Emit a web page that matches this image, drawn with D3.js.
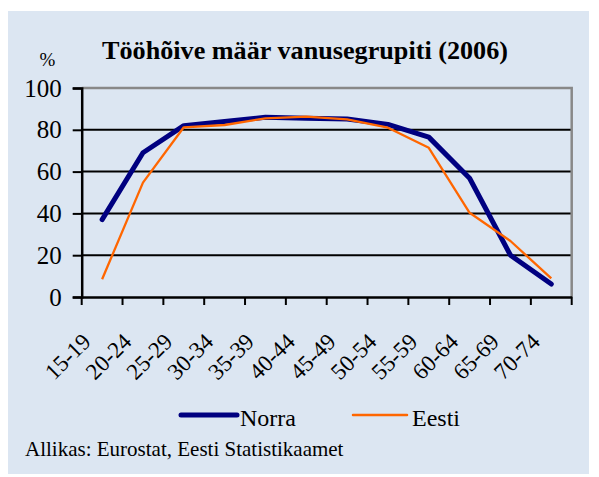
<!DOCTYPE html>
<html><head><meta charset="utf-8">
<script src="https://cdn.jsdelivr.net/npm/d3@7"></script>
</head><body>
<script>
const categories = ["15-19","20-24","25-29","30-34","35-39","40-44","45-49","50-54","55-59","60-64","65-69","70-74"];
const norra = [37, 69, 82, 84, 86, 85.5, 85.2, 82.6, 76.5, 56.8, 20, 6.2];
const eesti = [8.5, 54.7, 81.2, 82.3, 85.5, 86.3, 85, 81, 71.4, 40.3, 26.8, 8.9];
const yTicks = [0, 20, 40, 60, 80, 100];
const seriesNames = ["Norra", "Eesti"];
const seriesColors = ["#000080", "#ff6600"];
const title = "Tööhõive määr vanusegrupiti (2006)";
const source = "Allikas: Eurostat, Eesti Statistikaamet";

const F = `"Liberation Serif"`;
const svg = d3.select("body").append("svg").attr("width", 599).attr("height", 477)
  .style("position", "absolute").style("left", "0px").style("top", "0px");

svg.append("rect").attr("x", 8).attr("y", 11).attr("width", 581).attr("height", 463).attr("fill", "#dce6f2");

const pl = 81.7, pr = 571.7, pt = 88, pb = 297;
const x = d3.scaleBand().domain(categories).range([pl, pr]);
const y = d3.scaleLinear().domain([0, 100]).range([pb, pt]);

svg.append("g").selectAll("line").data(yTicks.filter(d => d > 0 && d < 100)).join("line")
  .attr("x1", pl).attr("x2", pr).attr("y1", d => y(d)).attr("y2", d => y(d))
  .attr("stroke", "#000").attr("stroke-width", 2);
svg.append("path").attr("d", `M${pl},${y(100)}H${pr}V${pb}`).attr("fill", "none")
  .attr("stroke", "#888").attr("stroke-width", 2.5);

// y axis line and ticks via d3 axis (labels drawn separately)
const yAxis = svg.append("g").attr("transform", `translate(${pl},0)`)
  .call(d3.axisLeft(y).tickValues(yTicks).tickSize(9).tickFormat(""));
yAxis.select(".domain").attr("stroke", "#000").attr("stroke-width", 2.5);
yAxis.selectAll(".tick line").attr("stroke", "#000").attr("stroke-width", 2);
yTicks.forEach(v => {
  svg.append("text").attr("x", pl - 20).attr("y", y(v) + 8.5).attr("text-anchor", "end")
    .style("font-family", F).attr("font-size", 25).attr("fill", "#000").text(v);
});

const xAxis = svg.append("g").attr("transform", `translate(0,${pb})`)
  .call(d3.axisBottom(x).tickSize(0).tickFormat(""));
xAxis.select(".domain").attr("stroke", "#000").attr("stroke-width", 2.5);
const edges = categories.map(c => x(c)).concat([pr]);
svg.append("g").selectAll("line").data(edges).join("line")
  .attr("x1", d => d).attr("x2", d => d).attr("y1", pb).attr("y2", pb + 8)
  .attr("stroke", "#000").attr("stroke-width", 2);
categories.forEach(c => {
  svg.append("text")
    .attr("transform", `translate(${x(c) + x.bandwidth()/2 - 10},${pb + 46}) rotate(-45)`)
    .attr("text-anchor", "end").style("font-family", F).attr("font-size", 23).attr("fill", "#000")
    .text(c);
});

const line = d3.line().x((d, i) => x(categories[i]) + x.bandwidth()/2).y(d => y(d));
svg.append("path").datum(norra).attr("d", line).attr("fill", "none")
  .attr("stroke", seriesColors[0]).attr("stroke-width", 5).attr("stroke-linejoin", "round").attr("stroke-linecap", "round");
svg.append("path").datum(eesti).attr("d", line).attr("fill", "none")
  .attr("stroke", seriesColors[1]).attr("stroke-width", 2.3).attr("stroke-linejoin", "round");

svg.append("text").attr("x", 102).attr("y", 59).attr("textLength", 406).attr("lengthAdjust", "spacingAndGlyphs")
  .style("font-family", F).attr("font-weight", "bold").attr("font-size", 25).attr("fill", "#000").text(title);
svg.append("text").attr("x", 47.5).attr("y", 66).attr("text-anchor", "middle")
  .style("font-family", F).attr("font-size", 19).attr("fill", "#000").text("%");

const leg = [{x1: 181, x2: 237, tx: 240, lw: 5}, {x1: 353, x2: 407, tx: 412, lw: 2.5}];
seriesNames.forEach((n, i) => {
  svg.append("line").attr("x1", leg[i].x1).attr("x2", leg[i].x2).attr("y1", 415).attr("y2", 415)
    .attr("stroke", seriesColors[i]).attr("stroke-width", leg[i].lw).attr("stroke-linecap", "round");
  svg.append("text").attr("x", leg[i].tx).attr("y", 425.5).attr("font-size", 24)
    .style("font-family", F).attr("fill", "#000").text(n);
});
svg.append("text").attr("x", 25).attr("y", 455.5).attr("font-size", 21)
  .style("font-family", F).attr("fill", "#000").text(source);
</script>
</body></html>
